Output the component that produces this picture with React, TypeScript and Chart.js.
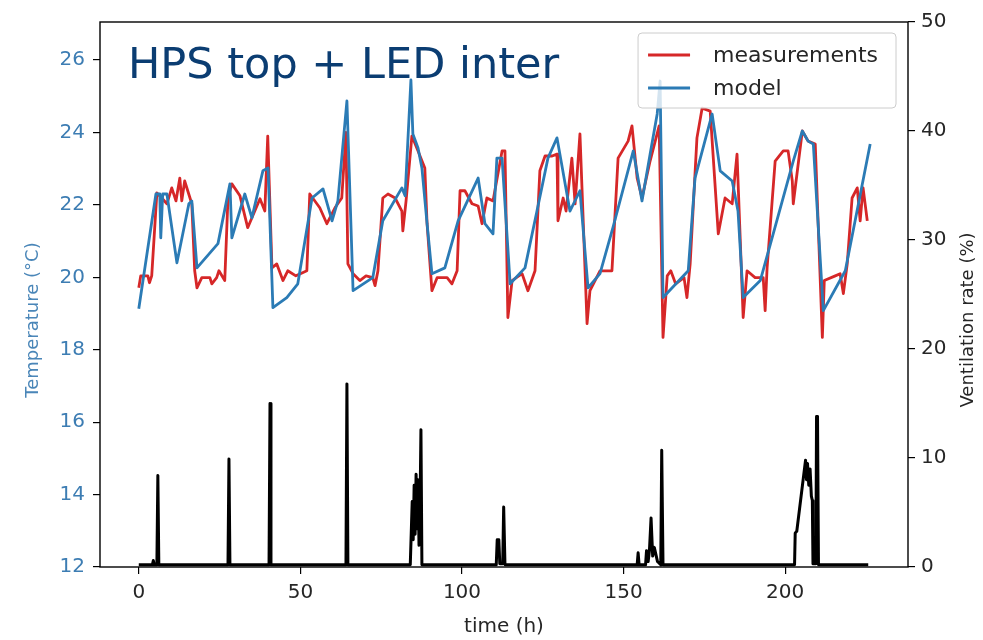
import React, { useEffect, useRef } from 'react';
import { Chart, registerables } from 'chart.js';

Chart.register(...registerables);

const FONT = '"DejaVu Sans", "Liberation Sans", sans-serif';

const chartTitle = 'HPS top + LED inter';
const xAxisTitle = 'time (h)';
const yAxisTitle = 'Temperature (°C)';
const y1AxisTitle = 'Ventilation rate (%)';

const timeTicks = [0, 50, 100, 150, 200];
const tempTicks = [12, 14, 16, 18, 20, 22, 24, 26];
const ventTicks = [0, 10, 20, 30, 40, 50];

// measurements (red)
const measTime = [
  0, 0.6, 2.8, 3.3, 4.0, 5.6, 7.1, 8.7, 10.2, 11.5, 12.7, 13.3, 14.2, 16.4, 17.3, 18.0,
  19.5, 22.0, 22.6, 24.1, 24.8, 26.6, 27.6, 28.8, 31.3, 33.7, 37.5, 39.0, 39.9, 41.2,
  42.7, 44.6, 46.1, 48.6, 50.5, 52.0, 52.9, 56.0, 58.2, 60.7, 62.8, 64.1, 64.7, 66.3,
  68.4, 70.3, 72.4, 73.1, 74.0, 75.5, 77.1, 79.3, 81.4, 81.7, 82.7, 84.5, 86.4, 88.5,
  89.2, 90.7, 92.3, 95.4, 96.9, 98.5, 99.4, 100.9, 103.1, 105.0, 106.2, 107.7, 109.6,
  112.4, 113.3, 114.2, 115.5, 118.6, 120.4, 122.6, 124.1, 125.7, 127.9, 129.4, 129.7,
  131.3, 132.2, 134.0, 135.0, 136.5, 138.7, 139.6, 142.7, 146.4, 148.3, 151.4, 152.6,
  154.2, 155.7, 158.2, 161.0, 162.2, 163.5, 164.6, 166.1, 168.7, 169.6, 170.6, 172.7,
  174.3, 176.8, 179.3, 181.4, 183.6, 185.1, 187.0, 188.2, 190.7, 193.2, 193.8, 194.4,
  196.9, 199.4, 200.9, 202.2, 202.5, 205.3, 207.1, 209.3, 211.5, 212.1, 215.5, 217.0,
  218.0, 219.2, 220.7, 222.3, 223.2, 224.1, 225.4,
];
const measTemp = [
  19.71, 20.04, 20.04, 19.85, 20.04, 22.33, 22.19, 22.03, 22.47, 22.11, 22.74, 22.11, 22.66, 22.03, 20.18, 19.71,
  19.99, 19.99, 19.82, 19.99, 20.18, 19.91, 22.19, 22.58, 22.25, 21.37, 22.17, 21.83, 23.9, 20.26,
  20.37, 19.91, 20.18, 20.04, 20.12, 20.18, 22.3, 21.92, 21.48, 21.92, 22.19, 24.0, 20.37, 20.1,
  19.91, 20.04, 19.99, 19.77, 20.18, 22.19, 22.3, 22.19, 21.83, 21.28, 22.11, 23.9, 23.49, 23.02,
  21.48, 19.63, 19.99, 19.99, 19.82, 20.18, 22.39, 22.39, 22.03, 21.97, 21.48, 22.19, 22.11,
  23.49, 23.49, 18.89, 19.91, 20.1, 19.63, 20.18, 22.94, 23.35, 23.35, 23.4, 21.56,
  22.19, 21.83, 23.29, 22.03, 23.96, 18.72, 19.63, 20.18, 20.18, 23.29, 23.76, 24.18,
  22.74, 22.19, 23.21, 24.18, 18.34, 20.04, 20.18, 19.82, 19.99, 19.44, 20.37, 23.85,
  24.67, 24.59, 21.2, 22.19, 22.03, 23.4, 18.89, 20.18, 19.99, 19.99, 19.08, 20.26,
  23.21, 23.49, 23.49, 22.66, 22.03, 24.04, 23.76, 23.68, 18.34, 19.91, 20.04, 20.1,
  19.55, 20.37, 22.19, 22.47, 21.56, 22.47, 21.56,
];

// model (blue)
const modelTime = [
  0, 5.3, 6.5, 6.8, 7.4, 8.7, 11.8, 15.5, 16.4, 18.0, 24.5, 28.2, 28.8, 32.8, 35.0, 38.4,
  40.0, 41.5, 45.8, 49.2, 53.6, 57.0, 59.8, 61.6, 64.4, 66.3, 72.4, 75.5, 81.4, 82.4,
  84.2, 84.8, 86.4, 87.6, 89.2, 90.7, 94.7, 98.8, 105.0, 107.1, 109.6, 110.8, 112.4,
  114.9, 119.5, 123.2, 126.6, 129.4, 133.4, 136.5, 139.0, 142.7, 146.7, 153.0, 155.7,
  158.2, 160.4, 161.3, 162.2, 170.0, 172.1, 177.4, 179.9, 183.6, 185.4, 187.0, 192.3,
  202.5, 205.3, 207.1, 208.7, 211.8, 218.6, 226.3,
];
const modelTemp = [
  19.13, 22.3, 22.3, 21.09, 22.3, 22.3, 20.4, 22.03, 22.11, 20.26, 20.93, 22.58, 21.09, 22.3, 21.64, 22.94,
  23.02, 19.16, 19.44, 19.82, 22.19, 22.44, 21.56, 22.11, 24.87, 19.63, 19.99, 21.56, 22.47, 22.25,
  25.45, 23.96, 23.57, 23.02, 21.48, 20.1, 20.26, 21.56, 22.74, 21.48, 21.2, 23.29, 23.29,
  19.82, 20.26, 21.83, 23.29, 23.85, 21.83, 22.39, 19.71, 20.1, 21.37, 23.49, 22.11,
  23.4, 24.51, 25.42, 19.44, 20.18, 22.74, 24.51, 22.94, 22.66, 21.83, 19.44, 19.91,
  23.21, 24.04, 23.76, 23.68, 19.08, 20.18, 23.68,
];

// ventilation rate (black)
const ventTime = [
  0, 4.2, 4.5, 4.8, 5.6, 5.9, 6.2, 27.6, 27.9, 28.2, 40.3, 40.6, 40.9, 64.1, 64.4, 64.7,
  84.0, 84.6, 84.9, 85.2, 85.5, 85.8, 86.1, 86.4, 86.7, 87.0, 87.3, 87.6,
  110.6, 110.9, 111.4, 111.7, 112.6, 112.9, 113.3,
  154.2, 154.5, 154.8, 156.8, 157.1, 157.6, 158.0, 158.5, 159.0, 159.5, 160.5, 161.5, 161.8, 162.2,
  202.9, 203.1, 203.6, 206.3, 206.6, 206.9, 207.3, 207.7, 208.1, 208.4, 208.6, 209.5, 209.7, 210.0, 210.3,
  225.7,
];
const ventRate = [
  0.2, 0.2, 0.6, 0.2, 0.2, 8.4, 0.2, 0.2, 9.9, 0.2, 0.2, 15.0, 0.2, 0.2, 16.8, 0.2,
  0.2, 6.0, 2.5, 7.5, 3.0, 8.5, 3.5, 8.0, 2.0, 5.0, 12.6, 0.2,
  0.2, 2.5, 2.5, 0.3, 0.3, 5.5, 0.2,
  0.2, 1.3, 0.2, 0.2, 1.5, 0.5, 1.5, 4.5, 1.0, 1.8, 0.5, 0.2, 10.7, 0.2,
  0.2, 3.1, 3.3, 9.8, 8.0, 9.5, 7.5, 9.0, 6.5, 6.1, 0.3, 0.3, 13.8, 13.8, 0.2,
  0.2,
];

const toPoints = (xs: number[], ys: number[]) => xs.map((x, i) => ({ x, y: ys[i] }));

const framePlugin = {
  id: 'frame',
  afterDatasetsDraw(chart: any) {
    const { ctx, chartArea: a } = chart;
    ctx.save();
    ctx.strokeStyle = '#000';
    ctx.lineWidth = 1.4;
    ctx.strokeRect(a.left, a.top, a.right - a.left, a.bottom - a.top);
    ctx.restore();
  },
};

const drawRotated = (ctx: any, text: string, x: number, y: number, color: string) => {
  ctx.save();
  ctx.font = `18px ${FONT}`;
  ctx.fillStyle = color;
  ctx.textAlign = 'center';
  ctx.textBaseline = 'middle';
  ctx.translate(x, y);
  ctx.rotate(-Math.PI / 2);
  ctx.fillText(text, 0, 0);
  ctx.restore();
};

const overlayPlugin = {
  id: 'overlay',
  afterDraw(chart: any) {
    const { ctx, chartArea: a } = chart;
    ctx.save();
    // title inside plot
    ctx.font = `43px ${FONT}`;
    ctx.fillStyle = '#0b3d72';
    ctx.textBaseline = 'alphabetic';
    ctx.textAlign = 'left';
    ctx.fillText(chartTitle, a.left + 28, a.top + 56);

    // legend
    const items = chart.data.datasets.slice(0, 2);
    ctx.font = `22px ${FONT}`;
    const textW = Math.max(...items.map((d: any) => ctx.measureText(d.label).width));
    const boxW = 10 + 42 + 23 + textW + 18;
    const boxH = 75;
    const right = a.right - 12;
    const top = a.top + 11;
    const left = right - boxW;
    ctx.beginPath();
    ctx.roundRect(left, top, boxW, boxH, 4);
    ctx.fillStyle = 'rgba(255,255,255,0.8)';
    ctx.fill();
    ctx.strokeStyle = '#cccccc';
    ctx.lineWidth = 1;
    ctx.stroke();
    items.forEach((d: any, i: number) => {
      const y = top + 22 + i * 33;
      ctx.beginPath();
      ctx.strokeStyle = d.borderColor;
      ctx.lineWidth = 2.8;
      ctx.moveTo(left + 10, y);
      ctx.lineTo(left + 52, y);
      ctx.stroke();
      ctx.fillStyle = '#262626';
      ctx.textBaseline = 'middle';
      ctx.fillText(d.label, left + 75, y + 1);
    });
    ctx.restore();

    // axis titles (both read bottom to top)
    drawRotated(ctx, yAxisTitle, 33, 320, '#4a86b8');
    drawRotated(ctx, y1AxisTitle, 968, 320, '#262626');
  },
};

export default function App() {
  const ref = useRef<HTMLCanvasElement>(null);
  useEffect(() => {
    document.body.style.margin = '0';
    const canvas = ref.current;
    if (!canvas) return;
    const chart = new Chart(canvas, {
      type: 'line',
      data: {
        datasets: [
          {
            label: 'measurements',
            data: toPoints(measTime, measTemp),
            borderColor: '#d62728',
            borderWidth: 2.8,
            yAxisID: 'y',
            order: 1,
          },
          {
            label: 'model',
            data: toPoints(modelTime, modelTemp),
            borderColor: '#2b7bb5',
            borderWidth: 2.8,
            yAxisID: 'y',
            order: 0,
          },
          {
            label: 'ventilation',
            data: toPoints(ventTime, ventRate),
            borderColor: '#000000',
            borderWidth: 3,
            yAxisID: 'y1',
            order: 2,
          },
        ],
      },
      options: {
        animation: false,
        responsive: false,
        maintainAspectRatio: false,
        layout: { padding: { top: 22, left: 0, right: 0, bottom: 0 } },
        elements: {
          point: { radius: 0 },
          line: { tension: 0, borderJoinStyle: 'round' },
        },
        plugins: { legend: { display: false }, tooltip: { enabled: false } },
        scales: {
          x: {
            type: 'linear',
            min: -12,
            max: 238,
            afterBuildTicks: (s: any) => {
              s.ticks = timeTicks.map((v) => ({ value: v }));
            },
            afterFit: (s: any) => {
              s.height = 73;
            },
            border: { display: false },
            grid: { drawOnChartArea: false, tickLength: 7, tickColor: '#000', lineWidth: 1.2 },
            ticks: { color: '#262626', font: { family: FONT, size: 20 }, padding: 7, maxRotation: 0 },
            title: {
              display: true,
              text: xAxisTitle,
              color: '#262626',
              font: { family: FONT, size: 20 },
              padding: { top: 0, bottom: 1 },
            },
          },
          y: {
            type: 'linear',
            position: 'left',
            min: 12,
            max: 27.05,
            afterBuildTicks: (s: any) => {
              s.ticks = tempTicks.map((v) => ({ value: v }));
            },
            afterFit: (s: any) => {
              s.width = 100;
            },
            border: { display: false },
            grid: { drawOnChartArea: false, tickLength: 7, tickColor: '#000', lineWidth: 1.2 },
            ticks: { color: '#3d7db3', font: { family: FONT, size: 20 }, padding: 8 },
          },
          y1: {
            type: 'linear',
            position: 'right',
            min: 0,
            max: 50,
            afterBuildTicks: (s: any) => {
              s.ticks = ventTicks.map((v) => ({ value: v }));
            },
            afterFit: (s: any) => {
              s.width = 75;
            },
            border: { display: false },
            grid: { drawOnChartArea: false, tickLength: 7, tickColor: '#000', lineWidth: 1.2 },
            ticks: { color: '#262626', font: { family: FONT, size: 20 }, padding: 6 },
          },
        },
      },
      plugins: [framePlugin, overlayPlugin],
    } as any);
    return () => chart.destroy();
  }, []);

  return (
    <div style={{ position: 'absolute', left: 0, top: 0, width: 983, height: 640, background: '#fff' }}>
      <canvas ref={ref} width={983} height={640} style={{ display: 'block', width: '983px', height: '640px' }} />
    </div>
  );
}
